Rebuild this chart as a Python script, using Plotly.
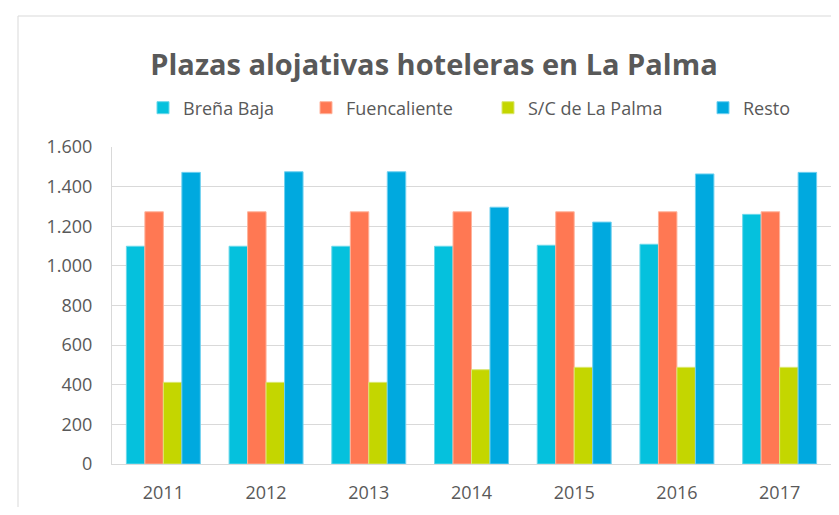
import plotly.graph_objects as go

years = ["2011", "2012", "2013", "2014", "2015", "2016", "2017"]
brena_baja = [1099, 1099, 1099, 1099, 1104, 1109, 1260]
fuencaliente = [1273, 1273, 1273, 1273, 1273, 1273, 1273]
sc_la_palma = [412, 412, 412, 476, 488, 488, 488]
resto = [1472, 1475, 1475, 1296, 1221, 1464, 1472]

series = [
    ("Breña Baja", brena_baja, "#05C1DD", "#6ad8ea"),
    ("Fuencaliente", fuencaliente, "#FF7853", "#ffb39c"),
    ("S/C de La Palma", sc_la_palma, "#C4D600", "#dbe770"),
    ("Resto", resto, "#00A9DF", "#6fd0f0"),
]
legend_ids = ["legend", "legend2", "legend3", "legend4"]
legend_px = [135, 298, 480, 695]

font_fam = "Open Sans, Liberation Sans, sans-serif"
fig = go.Figure()
for (name, vals, col, edge), lid in zip(series, legend_ids):
    fig.add_trace(go.Bar(
        x=years, y=vals, name=name, legend=lid, showlegend=True,
        marker=dict(color=col, line=dict(color=edge, width=1)),
    ))

W, H = 823, 499
L, T, B, R = 104, 139, 43, 0
pw, ph = W - L - R, H - T - B

legend_common = dict(orientation="h", xanchor="left", yanchor="middle",
                     y=(H - B - 100) / ph, visible=True,
                     font=dict(family=font_fam, size=18, color="#595959"),
                     itemclick=False, itemdoubleclick=False,
                     bgcolor="rgba(0,0,0,0)")
layout_legends = {}
for lid, lpx in zip(legend_ids, legend_px):
    layout_legends[lid] = dict(legend_common, x=(lpx - L) / pw)

fig.update_layout(
    width=W, height=H,
    showlegend=True,
    margin=dict(l=L, r=R, t=T, b=B, autoexpand=False),
    paper_bgcolor="white", plot_bgcolor="white",
    barmode="group", bargap=0.28, bargroupgap=0,
    separators=",.",
    title=dict(text="<b>Plazas alojativas hoteleras en La Palma</b>",
               x=426 / W, xanchor="center", y=1 - 57 / H, yanchor="middle",
               font=dict(family=font_fam, size=29, color="#595959")),
    xaxis=dict(showgrid=False, showline=True, linecolor="#d9d9d9", linewidth=1,
               tickfont=dict(family=font_fam, size=18, color="#595959"),
               ticks="", ticklabelstandoff=12, automargin=False),
    yaxis=dict(range=[0, 1600], dtick=200, tickformat=",d",
               showgrid=True, gridcolor="#d9d9d9", gridwidth=1,
               showline=True, linecolor="#d9d9d9", linewidth=1,
               zeroline=False, ticks="", ticklabelstandoff=15, automargin=False,
               tickfont=dict(family=font_fam, size=18, color="#595959")),
    shapes=[
        dict(type="line", xref="paper", yref="paper",
             x0=(10 - L) / pw, x1=1.05, y0=(H - B - 8) / ph, y1=(H - B - 8) / ph,
             line=dict(color="#d9d9d9", width=1)),
        dict(type="line", xref="paper", yref="paper",
             x0=(10 - L) / pw, x1=(10 - L) / pw, y0=(H - B - 8) / ph, y1=-0.3,
             line=dict(color="#d9d9d9", width=1)),
    ],
    **layout_legends,
)

fig.write_html("out.html")
